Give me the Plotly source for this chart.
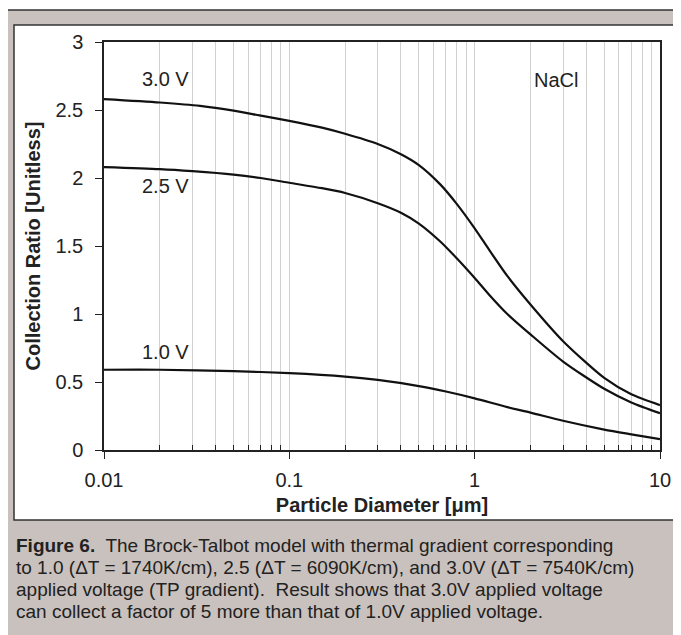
import numpy as np
import plotly.graph_objects as go

# ---- data ----
d_3_0V = [0.01, 0.02, 0.033, 0.05, 0.069, 0.1, 0.15, 0.2, 0.3, 0.4, 0.5, 0.65, 0.8, 1.0, 1.2, 1.5, 2.0, 3.0, 5.0, 7.0, 10.0]
ratio_3_0V = [2.58, 2.555, 2.53, 2.495, 2.46, 2.42, 2.37, 2.325, 2.25, 2.175, 2.095, 1.955, 1.81, 1.63, 1.47, 1.28, 1.07, 0.80, 0.53, 0.41, 0.33]

d_2_5V = [0.01, 0.02, 0.03, 0.05, 0.07, 0.1, 0.15, 0.2, 0.3, 0.4, 0.5, 0.65, 0.8, 1.0, 1.2, 1.5, 2.0, 3.0, 5.0, 7.0, 10.0]
ratio_2_5V = [2.08, 2.065, 2.05, 2.025, 2.0, 1.965, 1.925, 1.89, 1.815, 1.745, 1.665, 1.535, 1.41, 1.265, 1.14, 1.00, 0.85, 0.65, 0.45, 0.35, 0.27]

d_1_0V = [0.01, 0.02, 0.05, 0.1, 0.2, 0.3, 0.5, 0.7, 1.0, 1.5, 2.0, 3.0, 5.0, 7.0, 10.0]
ratio_1_0V = [0.59, 0.59, 0.58, 0.565, 0.54, 0.515, 0.47, 0.43, 0.38, 0.315, 0.275, 0.215, 0.15, 0.115, 0.08]

series_names = ["3.0 V", "2.5 V", "1.0 V"]
series_x = [d_3_0V, d_2_5V, d_1_0V]
series_y = [ratio_3_0V, ratio_2_5V, ratio_1_0V]
label_pos = [(0.0156, 2.73), (0.0156, 1.94), (0.0156, 0.72)]
nacl_label = ("NaCl", 2.75, 2.72)

x_ticks = [0.01, 0.1, 1, 10]
x_tick_labels = ["0.01", "0.1", "1", "10"]
y_ticks = [0, 0.5, 1, 1.5, 2, 2.5, 3]
y_tick_labels = ["0", "0.5", "1", "1.5", "2", "2.5", "3"]

caption_lines = [
    "<b>Figure 6.</b>\u00a0 The Brock-Talbot model with thermal gradient corresponding",
    "to 1.0 (\u0394T = 1740K/cm), 2.5 (\u0394T = 6090K/cm), and 3.0V (\u0394T = 7540K/cm)",
    "applied voltage (TP gradient).\u00a0 Result shows that 3.0V applied voltage",
    "can collect a factor of 5 more than that of 1.0V applied voltage.",
]

FONT = "Liberation Sans, Arial, Helvetica, sans-serif"
FS = 20
CAP_FS = 19
OFF = 8  # page body margin
W, H = 681 - OFF, 635 - OFF
L, R, T, B = 104, 660, 42, 450  # plot area in page px


def px_x(p):
    return (p - L) / (R - L)


def px_y(p):
    return (B - p) / (B - T)


fig = go.Figure()
for name, xs, ys in zip(series_names, series_x, series_y):
    fig.add_trace(go.Scatter(x=xs, y=ys, mode="lines", name=name,
                             line=dict(color="#111111", width=2.2, shape="spline", smoothing=0.7),
                             showlegend=False, hoverinfo="skip"))

annotations = []
for name, (lx, ly) in zip(series_names, label_pos):
    annotations.append(dict(x=np.log10(lx), y=ly, xref="x", yref="y", text=name, showarrow=False,
                            xanchor="left", yanchor="middle", font=dict(size=FS, color="#222", family=FONT)))
annotations.append(dict(x=np.log10(nacl_label[1]), y=nacl_label[2], xref="x", yref="y", text=nacl_label[0],
                        showarrow=False, xanchor="center", yanchor="middle",
                        font=dict(size=FS, color="#222", family=FONT)))

cap_baselines = [550, 572, 594, 616]
for line, bl in zip(caption_lines, cap_baselines):
    annotations.append(dict(x=px_x(15), y=px_y(bl + 7), xref="paper", yref="paper", text=line,
                            showarrow=False, xanchor="left", yanchor="bottom", borderpad=0,
                            font=dict(size=CAP_FS, color="#222", family=FONT)))

shapes = [
    # outer grey frame
    dict(type="rect", xref="paper", yref="paper", x0=px_x(5), x1=px_x(700), y0=px_y(10), y1=px_y(700),
         line=dict(color="#333", width=1.5), fillcolor="#c9c1bd", layer="below"),
    # inner white panel
    dict(type="rect", xref="paper", yref="paper", x0=px_x(14), x1=px_x(678), y0=px_y(25), y1=px_y(520),
         line=dict(color="#333", width=1.5), fillcolor="white", layer="below"),
]

fig.update_layout(
    width=W, height=H,
    margin=dict(l=L - OFF, r=(W + OFF) - R, t=T - OFF, b=(H + OFF) - B, autoexpand=False),
    paper_bgcolor="white", plot_bgcolor="rgba(0,0,0,0)",
    font=dict(family=FONT, size=FS, color="#222"),
    annotations=annotations, shapes=shapes,
    xaxis=dict(type="log", range=[-2, 1], tickvals=x_ticks, ticktext=x_tick_labels,
               ticks="outside", ticklen=7, tickcolor="#222", tickwidth=1,
               showline=True, linecolor="#222", linewidth=1.5, mirror=True,
               showgrid=True, gridcolor="#d2d2d2", gridwidth=1, zeroline=False,
               minor=dict(ticks="inside", ticklen=5, tickcolor="#222", showgrid=True,
                          gridcolor="#d2d2d2", gridwidth=1,
                          tickvals=[m * d for d in [0.01, 0.1, 1] for m in range(2, 10)]),
               tickfont=dict(size=FS), ticklabelstandoff=4,
               title=dict(text="Particle Diameter [\u03bcm]", font=dict(size=FS, weight="bold"), standoff=8)),
    yaxis=dict(range=[0, 3], tickvals=y_ticks, ticktext=y_tick_labels,
               ticks="outside", ticklen=7, tickcolor="#222", tickwidth=1,
               showline=True, linecolor="#222", linewidth=1.5, mirror=True,
               showgrid=False, zeroline=False, tickfont=dict(size=FS), ticklabelstandoff=8,
               title=dict(text="Collection Ratio [Unitless]", font=dict(size=FS, weight="bold"), standoff=9)),
)

fig.write_html("out.html")
